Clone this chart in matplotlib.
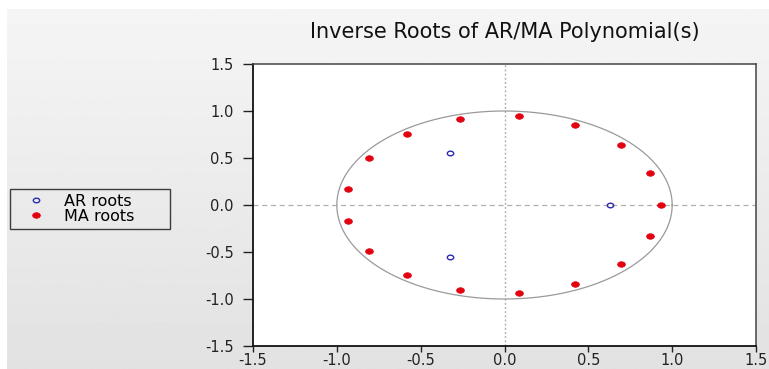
import numpy as np
import matplotlib
matplotlib.use("Agg")
import matplotlib.pyplot as plt
from matplotlib.path import Path
from matplotlib.transforms import Affine2D
from matplotlib.ticker import MultipleLocator, FormatStrFormatter

plt.rcParams['font.family'] = ['DejaVu Sans']

# inverse roots (real, imaginary)
ar_re = [-0.325, -0.325, 0.631]
ar_im = [0.553, -0.553, 0.0]

ma_re = [-0.263, -0.579, -0.810, -0.934, 0.084, 0.421, 0.693, 0.870, 0.934,
         -0.934, -0.810, -0.579, -0.263, 0.084, 0.421, 0.693, 0.870]
ma_im = [0.910, 0.755, 0.500, 0.170, 0.944, 0.848, 0.635, 0.340, 0.000,
         -0.170, -0.490, -0.745, -0.904, -0.936, -0.840, -0.630, -0.333]

W, H = 769, 369
fig = plt.figure(figsize=(W / 100, H / 100), dpi=100, facecolor='white')

# grey gradient backdrop with thin white margin top/left
bg = fig.add_axes([7 / W, 0, 1 - 7 / W, 1 - 9 / H], zorder=-10)
grad = np.linspace(0.96, 0.885, 256).reshape(-1, 1)
bg.imshow(grad, aspect='auto', cmap='gray', vmin=0, vmax=1, extent=[0, 1, 0, 1])
bg.set_axis_off()

ax = fig.add_axes([253 / W, 1 - 346 / H, (756 - 253) / W, (346 - 64) / H])
ax.set_facecolor('white')

# unit circle
t = np.linspace(0, 2 * np.pi, 400)
ax.plot(np.cos(t), np.sin(t), color='#9a9a9a', lw=0.9, zorder=2)
ax.axhline(0, color='#b0b0b0', lw=0.9, ls=(0, (4, 3)), zorder=1)
ax.axvline(0, color='#b0b0b0', lw=1.0, ls=(0, (1.5, 1.5)), zorder=1)

# slightly wide ellipse marker
oval = Path.unit_circle().transformed(Affine2D().scale(1.4, 1.0))
ax.plot(ar_re, ar_im, ls='none', marker=oval, ms=4.6, mfc='none',
        mec='#2b2bb0', mew=1.0, label='AR roots', zorder=4)
ax.plot(ma_re, ma_im, ls='none', marker=oval, ms=5.6, mfc='#e3000f',
        mec='#e3000f', mew=0.5, label='MA roots', zorder=4)

ax.set_xlim(-1.5, 1.5)
ax.set_ylim(-1.5, 1.5)
ax.xaxis.set_major_locator(MultipleLocator(0.5))
ax.yaxis.set_major_locator(MultipleLocator(0.5))
ax.xaxis.set_major_formatter(FormatStrFormatter('%.1f'))
ax.yaxis.set_major_formatter(FormatStrFormatter('%.1f'))
ax.tick_params(axis='y', direction='out', length=7, width=1, pad=7,
               labelsize=10.5, colors='#222222')
ax.tick_params(axis='x', direction='out', length=4, width=1, pad=1,
               labelsize=10.5, colors='#222222')
for side in ('left', 'bottom'):
    ax.spines[side].set_color('#111111')
    ax.spines[side].set_linewidth(1.3)
for side in ('top', 'right'):
    ax.spines[side].set_color('#444444')
    ax.spines[side].set_linewidth(1.1)

fig.text(504.5 / W, 1 - 32 / H, 'Inverse Roots of AR/MA Polynomial(s)',
         ha='center', va='center', fontsize=15, color='#111111')

leg = fig.legend(loc='upper left', mode='expand',
                 bbox_to_anchor=(10 / W, 1 - 228 / H, 160 / W, 39 / H),
                 borderaxespad=0, fontsize=11.5, frameon=True, fancybox=False,
                 handlelength=2.7, handletextpad=0.35, borderpad=0.3,
                 labelspacing=0.0)
leg.get_frame().set_edgecolor('#111111')
leg.get_frame().set_facecolor('none')
leg.get_frame().set_linewidth(1.0)

fig.savefig('out.png', dpi=100, facecolor=fig.get_facecolor())
